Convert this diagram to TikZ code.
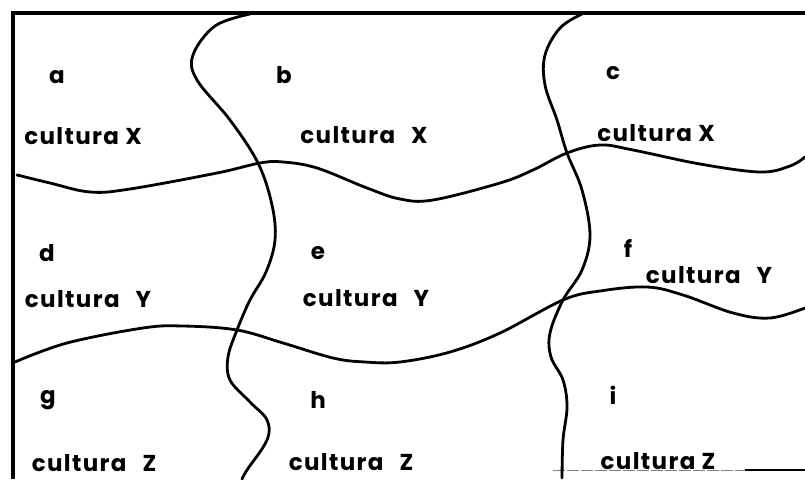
\documentclass[tikz,border=0pt]{standalone}
\usepackage{fontspec}
\setmainfont{Poppins}
\begin{document}
\begin{tikzpicture}[x=1pt,y=-1pt,
  lbl/.style={font=\fontsize{23}{26}\selectfont\bfseries\addfontfeatures{LetterSpace=6}, inner sep=0pt, anchor=center},
  frame/.style={line width=3.4pt},
  curve/.style={line width=2.8pt, line cap=round, line join=round}]
\useasboundingbox (0,0) rectangle (805,479);
% frame
\draw[frame] (13,479) -- (13,13) -- (805,13);
\draw[line width=1pt, gray, dash pattern=on 12pt off 2pt] (553,470) -- (745,470);
\draw[line width=2pt] (745,469.5) -- (805,469.5);
% vertical curve 1
\draw[curve] plot[smooth, tension=0.6] coordinates {(250,14) (215,26) (193,55) (197,80) (230,120) (258,163) (272,205) (275,240) (266,272) (250,300) (237,330) (228,357) (230,380) (250,402) (267,420) (267,440) (247,470) (242,479)};
% vertical curve 2
\draw[curve] plot[smooth, tension=0.6] coordinates {(582,14) (560,28) (545,55) (545,85) (557,120) (567,153) (582,190) (590,235) (582,270) (563,300) (550,333) (551,357) (563,380) (567,407) (563,440) (562,478)};
% horizontal curve 1
\draw[curve] plot[smooth, tension=0.6] coordinates {(17,175) (50,183) (90,192) (130,189) (217,173) (260,163) (283,162) (317,168) (367,188) (400,199) (433,200) (500,183) (533,170) (567,153) (600,145) (633,150) (700,164) (760,172) (790,166) (805,157)};
% horizontal curve 2
\draw[curve] plot[smooth, tension=0.6] coordinates {(15,362) (67,343) (143,328) (183,326) (237,330) (283,343) (333,358) (365,362) (400,362) (450,352) (500,333) (563,300) (600,291) (647,287) (683,295) (733,313) (770,318) (805,308)};
% labels
\node[lbl] (la) at (57,77) {a};
\node[lbl] (lb) at (284,75) {b};
\node[lbl] (lc) at (613,73) {c};
\node[lbl] (ld) at (47,253) {d};
\node[lbl] (le) at (318,253) {e};
\node[lbl] (lf) at (628,248) {f};
\node[lbl] (lg) at (48,400) {g};
\node[lbl] (lh) at (318,400) {h};
\node[lbl] (li) at (613,395) {i};
\node[lbl] (ca) at (83,136) {cultura X};
\node[lbl] (cb) at (364,135) {cultura\hspace{16pt}X};
\node[lbl] (cc) at (656,133) {cultura X};
\node[lbl] (cd) at (88,299) {cultura\hspace{16pt}Y};
\node[lbl] (ce) at (366,298) {cultura\hspace{16pt}Y};
\node[lbl] (cf) at (709,275) {cultura\hspace{16pt}Y};
\node[lbl] (cg) at (94,463) {cultura\hspace{16pt}Z};
\node[lbl] (ch) at (351,462) {cultura\hspace{16pt}Z};
\node[lbl] (ci) at (658,461) {cultura Z};
\end{tikzpicture}
\end{document}
